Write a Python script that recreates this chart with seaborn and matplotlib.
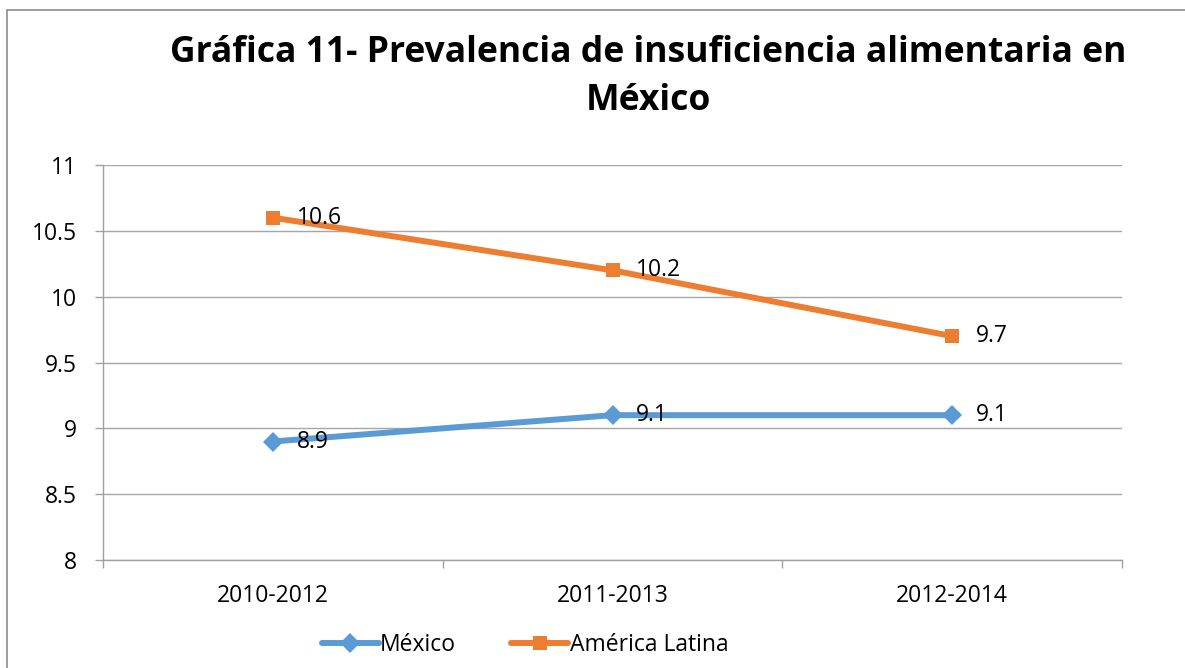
import pandas as pd
import matplotlib.pyplot as plt
import seaborn as sns
from matplotlib.lines import Line2D

# Datos de la gráfica
periodos = ["2010-2012", "2011-2013", "2012-2014"]
mexico = [8.9, 9.1, 9.1]
america_latina = [10.6, 10.2, 9.7]
series = ["México", "América Latina"]

df = pd.DataFrame({
    "periodo": periodos * 2,
    "valor": mexico + america_latina,
    "serie": [series[0]] * 3 + [series[1]] * 3,
})

sns.set_theme(style="white")
plt.rcParams["font.family"] = ["Open Sans", "DejaVu Sans"]
plt.rcParams["text.color"] = "black"

colores = {"México": "#5B9BD5", "América Latina": "#ED7D31"}
marcadores = {"México": "D", "América Latina": "s"}

fig = plt.figure(figsize=(11.85, 6.68), dpi=100)
ax = fig.add_axes([103 / 1185, 1 - 560 / 668, 1019 / 1185, 395 / 668])

sns.lineplot(data=df, x="periodo", y="valor", hue="serie", style="serie",
             palette=colores, markers=marcadores, dashes=False,
             linewidth=4.3, markersize=10, markeredgewidth=0, ax=ax)

# etiquetas de datos
for i, p in enumerate(periodos):
    for vals in (mexico, america_latina):
        ax.annotate(f"{vals[i]}", (i, vals[i]), xytext=(17, 0), textcoords="offset points",
                    ha="left", va="center", fontsize=16.5, color="black")

ax.set_xlim(-0.5, 2.5)
ax.set_ylim(8, 11)
ax.set_yticks([8, 8.5, 9, 9.5, 10, 10.5, 11])
ax.set_yticklabels(["8", "8.5", "9", "9.5", "10", "10.5", "11"])
ax.set_xticks([-0.5, 0.5, 1.5, 2.5])
ax.set_xticklabels([])
ax.set_xticks([0, 1, 2], minor=True)
ax.set_xticklabels(periodos, minor=True)
ax.tick_params(axis="x", which="minor", length=0, pad=17, labelsize=16.5, labelcolor="black")
ax.tick_params(axis="x", which="major", length=6, width=1, color="#A0A0A0", direction="out", bottom=True)
ax.tick_params(axis="y", length=6, width=1, color="#A0A0A0", direction="out", left=True, pad=13,
               labelsize=16.5, labelcolor="black")
ax.set_xlabel("")
ax.set_ylabel("")

ax.grid(axis="y", color="#A6A6A6", linewidth=1)
for s in ["top", "right"]:
    ax.spines[s].set_visible(False)
for s in ["left", "bottom"]:
    ax.spines[s].set_color("#A0A0A0")
    ax.spines[s].set_linewidth(1)

ax.legend(handles=ax.get_legend_handles_labels()[0], labels=series,
          loc="center", bbox_to_anchor=(0.443, 0.034), bbox_transform=fig.transFigure,
          ncol=2, frameon=False, fontsize=16.5, handlelength=2.5, handletextpad=0.05,
          columnspacing=2.4)

fig.text(0.547, 1 - 53 / 668, "Gráfica 11- Prevalencia de insuficiencia alimentaria en",
         ha="center", va="center", fontsize=25.6, fontweight="bold", color="black")
fig.text(0.547, 1 - 101 / 668, "México", ha="center", va="center", fontsize=25.6,
         fontweight="bold", color="black")

# marco del gráfico
fig.add_artist(Line2D([7 / 1185, 7 / 1185], [0, 1 - 10 / 668], color="#8C8C8C", lw=1.2,
                      transform=fig.transFigure))
fig.add_artist(Line2D([7 / 1185, 1], [1 - 10 / 668, 1 - 10 / 668], color="#8C8C8C", lw=1.2,
                      transform=fig.transFigure))

fig.savefig("out.png", dpi=100)
